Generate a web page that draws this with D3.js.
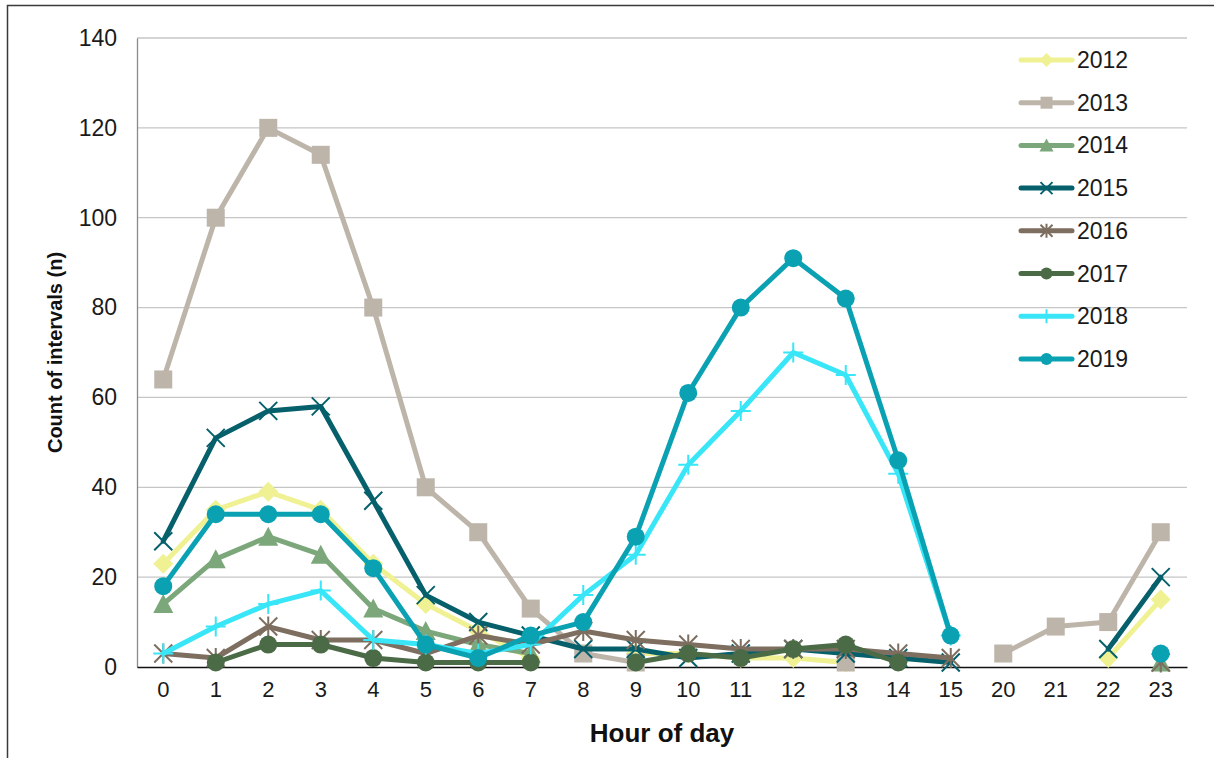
<!DOCTYPE html>
<html>
<head>
<meta charset="utf-8">
<script src="https://cdn.jsdelivr.net/npm/d3@7"></script>
<style>
  body { margin: 0; background: #fff; }
  svg { font-family: "Liberation Sans", Arial, sans-serif; }
</style>
</head>
<body>
<script>
// categories on the x axis (hours 16-19 are not in the data)
var hours = ['0','1','2','3','4','5','6','7','8','9','10','11','12','13','14','15','20','21','22','23'];

// one array per year, same order as hours, null = no value
var y2012 = [23, 35, 39, 35, 23, 14, 8, 2, null, 3, 3, 2, 2, 1, null, null, null, null, 2, 15];
var y2013 = [64, 100, 120, 114, 80, 40, 30, 13, 3, 1, null, null, null, 1, null, null, 3, 9, 10, 30];
var y2014 = [14, 24, 29, 25, 13, 8, 5, 3, null, null, null, null, null, null, null, null, null, null, null, 1];
var y2015 = [28, 51, 57, 58, 37, 16, 10, 7, 4, 4, 2, 3, 4, 3, 2, 1, null, null, 4, 20];
var y2016 = [3, 2, 9, 6, 6, 3, 7, 5, 8, 6, 5, 4, 4, 4, 3, 2, null, null, null, 1];
var y2017 = [null, 1, 5, 5, 2, 1, 1, 1, null, 1, 3, 2, 4, 5, 1, null, null, null, null, null];
var y2018 = [3, 9, 14, 17, 6, 5, 3, 5, 16, 25, 45, 57, 70, 65, 43, 7, null, null, null, null];
var y2019 = [18, 34, 34, 34, 22, 5, 2, 7, 10, 29, 61, 80, 91, 82, 46, 7, null, null, null, 3];

var yTicks = [0, 20, 40, 60, 80, 100, 120, 140];

var series = [
  {name: '2012', values: y2012, color: '#eff193', marker: 'diamond'},
  {name: '2013', values: y2013, color: '#bdb5aa', marker: 'square'},
  {name: '2014', values: y2014, color: '#7ba77a', marker: 'triangle'},
  {name: '2015', values: y2015, color: '#05606b', marker: 'x'},
  {name: '2016', values: y2016, color: '#7d6e60', marker: 'asterisk'},
  {name: '2017', values: y2017, color: '#4b6b46', marker: 'circle'},
  {name: '2018', values: y2018, color: '#38e6f7', marker: 'plus'},
  {name: '2019', values: y2019, color: '#0aa2b3', marker: 'circle'}
];

var W = 1214, H = 758;
var plot = {left: 137, right: 1187, top: 38, bottom: 667};

var svg = d3.select('body').append('svg')
  .attr('width', W)
  .attr('height', H);

// outer frame
svg.append('rect')
  .attr('x', 7.5).attr('y', 5.5)
  .attr('width', W + 20).attr('height', H + 20)
  .attr('fill', 'none')
  .attr('stroke', '#3a3a3a')
  .attr('stroke-width', 1.5);

var x = d3.scaleBand().domain(hours).range([plot.left, plot.right]);
var xMid = function(h) { return x(h) + x.bandwidth() / 2; };
var y = d3.scaleLinear().domain([0, 140]).range([plot.bottom, plot.top]);

// gridlines
svg.append('g')
  .selectAll('line')
  .data(yTicks.filter(function(t) { return t > 0; }))
  .enter().append('line')
  .attr('x1', plot.left).attr('x2', plot.right)
  .attr('y1', function(d) { return y(d); })
  .attr('y2', function(d) { return y(d); })
  .attr('stroke', '#c6c6c6')
  .attr('stroke-width', 1.3);

// y axis
var yAxis = svg.append('g')
  .attr('transform', 'translate(' + plot.left + ',0)')
  .call(d3.axisLeft(y).tickValues(yTicks).tickSize(0).tickPadding(20));
yAxis.select('.domain').attr('stroke', '#8a8a8a').attr('stroke-width', 1.3);
yAxis.selectAll('text').attr('font-size', 23).attr('fill', '#1a1a1a');

// x axis
var xAxis = svg.append('g')
  .attr('transform', 'translate(0,' + plot.bottom + ')')
  .call(d3.axisBottom(x).tickSize(0).tickPadding(14));
xAxis.select('.domain').attr('stroke', '#111').attr('stroke-width', 1.5);
xAxis.selectAll('text').attr('font-size', 22).attr('fill', '#1a1a1a');

// axis titles
svg.append('text')
  .attr('x', (plot.left + plot.right) / 2)
  .attr('y', 742)
  .attr('text-anchor', 'middle')
  .attr('font-size', 26)
  .attr('font-weight', 'bold')
  .attr('fill', '#111')
  .text('Hour of day');

svg.append('text')
  .attr('transform', 'translate(62,' + ((plot.top + plot.bottom) / 2) + ') rotate(-90)')
  .attr('text-anchor', 'middle')
  .attr('font-size', 20)
  .attr('font-weight', 'bold')
  .attr('fill', '#111')
  .text('Count of intervals (n)');

// marker drawing helper
function drawMarker(g, type, cx, cy, color, s) {
  var r = s || 8;
  if (type === 'circle') {
    g.append('circle').attr('cx', cx).attr('cy', cy).attr('r', r).attr('fill', color);
  } else if (type === 'square') {
    g.append('rect').attr('x', cx - r).attr('y', cy - r).attr('width', 2 * r).attr('height', 2 * r)
      .attr('fill', color);
  } else if (type === 'diamond') {
    g.append('path').attr('d', 'M' + cx + ',' + (cy - r - 1) + 'L' + (cx + r + 1) + ',' + cy + 'L' + cx + ',' + (cy + r + 1) + 'L' + (cx - r - 1) + ',' + cy + 'Z')
      .attr('fill', color);
  } else if (type === 'triangle') {
    g.append('path').attr('d', 'M' + cx + ',' + (cy - r - 1) + 'L' + (cx + r + 1) + ',' + (cy + r) + 'L' + (cx - r - 1) + ',' + (cy + r) + 'Z')
      .attr('fill', color);
  } else if (type === 'x' || type === 'asterisk' || type === 'plus') {
    var d = '';
    if (type !== 'plus') {
      d += 'M' + (cx - r) + ',' + (cy - r) + 'L' + (cx + r) + ',' + (cy + r);
      d += 'M' + (cx - r) + ',' + (cy + r) + 'L' + (cx + r) + ',' + (cy - r);
    }
    if (type === 'asterisk' || type === 'plus') {
      d += 'M' + cx + ',' + (cy - r - 1) + 'L' + cx + ',' + (cy + r + 1);
    }
    if (type === 'plus') {
      d += 'M' + (cx - r - 1) + ',' + cy + 'L' + (cx + r + 1) + ',' + cy;
    }
    g.append('path').attr('d', d).attr('stroke', color).attr('stroke-width', 2).attr('fill', 'none');
  }
}

// lines and markers
var line = d3.line()
  .defined(function(d) { return d.v !== null; })
  .x(function(d) { return xMid(d.h); })
  .y(function(d) { return y(d.v); });

series.forEach(function(s) {
  var pts = hours.map(function(h, i) { return {h: h, v: s.values[i]}; });
  var g = svg.append('g');
  g.append('path')
    .datum(pts)
    .attr('d', line)
    .attr('fill', 'none')
    .attr('stroke', s.color)
    .attr('stroke-width', 5)
    .attr('stroke-linejoin', 'round')
    .attr('stroke-linecap', 'round');
  pts.filter(function(p) { return p.v !== null; }).forEach(function(p) {
    drawMarker(g, s.marker, xMid(p.h), y(p.v), s.color, 9);
  });
});

// legend
var legend = svg.append('g');
series.forEach(function(s, i) {
  var ly = 60 + i * 42.7;
  var g = legend.append('g');
  g.append('line')
    .attr('x1', 1021).attr('x2', 1072)
    .attr('y1', ly).attr('y2', ly)
    .attr('stroke', s.color)
    .attr('stroke-width', 5)
    .attr('stroke-linecap', 'round');
  drawMarker(g, s.marker, 1046.5, ly, s.color, 6);
  g.append('text')
    .attr('x', 1077)
    .attr('y', ly + 8)
    .attr('font-size', 23)
    .attr('fill', '#1a1a1a')
    .text(s.name);
});
</script>
</body>
</html>
